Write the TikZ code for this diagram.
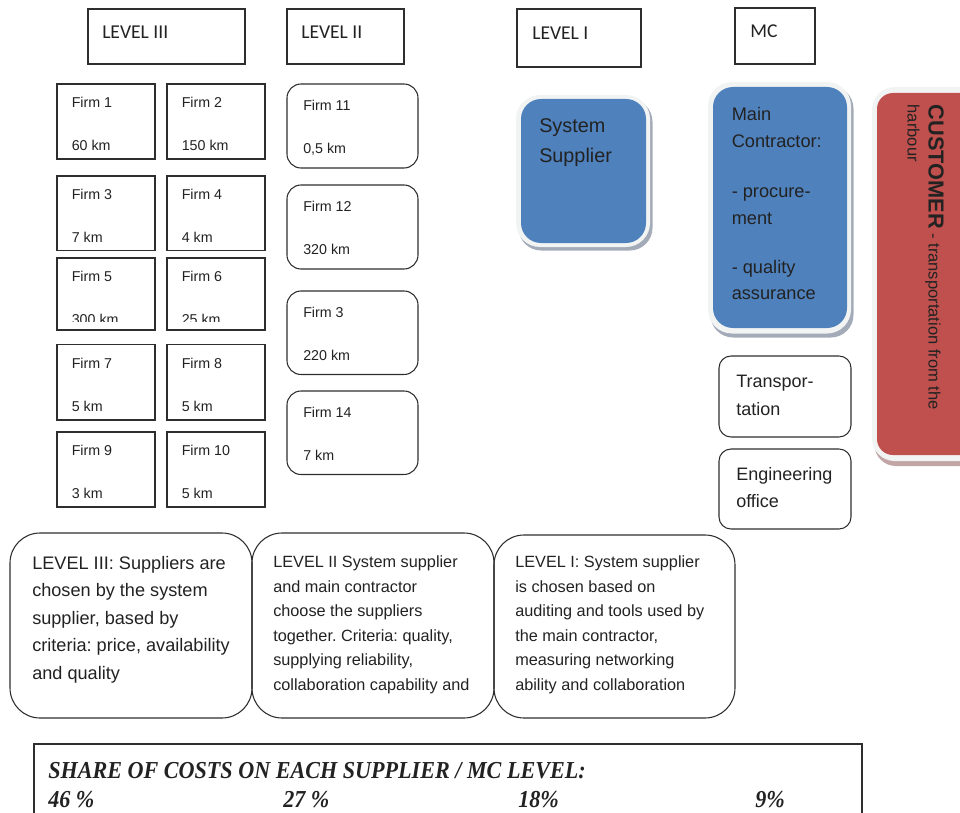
\documentclass[tikz,border=0pt]{standalone}
\usepackage{fontspec}
\usepackage{graphicx}
\setmainfont{Liberation Sans}
\newfontfamily\hdrfont{Carlito}
\newfontfamily\costfont{Liberation Serif}
\usetikzlibrary{calc}
\frenchspacing

\definecolor{mcblue}{HTML}{4F81BD}
\definecolor{custred}{HTML}{C0504D}
\definecolor{rimgray}{HTML}{F2F4F4}
\definecolor{shadeblue}{HTML}{A3AAB8}
\definecolor{shadered}{HTML}{C2A6A6}
\definecolor{ink}{HTML}{222222}
\definecolor{edge}{HTML}{2E2E2E}

% one drawing unit = one pixel of a 960 x 813 sheet
\newcommand\pxu{0.75pt}
% the cost line is set a little taller than the serif's natural shape
\newcommand\tallcost[1]{\scalebox{1}[1.1]{#1}}

\tikzset{
  frame/.style={draw=edge, line width=0.8pt, anchor=north west, inner sep=0pt, outer sep=0pt},
  hdrbox/.style={frame},
  hdrtxt/.style={anchor=base west, inner sep=0pt, text=ink, font=\hdrfont\fontsize{14.7}{17}\selectfont},
  sqbox/.style={frame, line width=0.9pt, minimum width=98*\pxu},
  rndbox/.style={frame, rounded corners=10.5pt, minimum width=131*\pxu},
  firmtxt/.style={anchor=base west, inner sep=0pt, text=ink, font=\fontsize{10.7}{12}\selectfont},
  bluebox/.style={anchor=north west, inner sep=0pt, outer sep=0pt, fill=mcblue, rounded corners=15pt},
  bluetxt/.style={anchor=base west, inner sep=0pt, text=ink},
  sidebox/.style={frame, rounded corners=9pt, minimum width=132*\pxu, minimum height=81*\pxu},
  sidetxt/.style={anchor=base west, inner sep=0pt, text=ink, font=\fontsize{13.5}{16}\selectfont},
  notebox/.style={frame, rounded corners=22.5pt},
  notetxt/.style={anchor=base west, inner sep=0pt, text=ink},
  costtxt/.style={anchor=base west, inner sep=0pt, text=ink, font=\costfont\bfseries\itshape\fontsize{16.6}{19}\selectfont},
}

% square supplier cell: name, x, y, height, firm, distance
\newcommand\sqfirm[6]{%
  \node[sqbox, minimum height=#4*\pxu] (#1) at (#2,#3) {};
  \node[firmtxt] (#1-n) at ({#2+14.5},{#3+23.5}) {#5};
  \node[firmtxt] (#1-d) at ({#2+14.5},{#3+66.5}) {#6};
}
% rounded supplier cell: name, y, height, firm, distance
\newcommand\rndfirm[5]{%
  \node[rndbox, minimum height=#3*\pxu] (#1) at (287,#2) {};
  \node[firmtxt] (#1-n) at (303,{#2+26.5}) {#4};
  \node[firmtxt] (#1-d) at (303,{#2+69.5}) {#5};
}

\begin{document}
\begin{tikzpicture}[x=0.75pt,y=-0.75pt]
\path[use as bounding box] (0,0) rectangle (960,813);
\clip (0,0) rectangle (960,813);

% ---- level headings
\node[hdrbox, minimum width=157*\pxu, minimum height=55*\pxu] (h3) at (88,9) {};
\node[hdrtxt] (h3-t) at (102,39) {LEVEL III};
\node[hdrbox, minimum width=117*\pxu, minimum height=55*\pxu] (h2) at (287,9) {};
\node[hdrtxt] (h2-t) at (301,39) {LEVEL II};
\node[hdrbox, minimum width=124*\pxu, minimum height=58*\pxu] (h1) at (517,9) {};
\node[hdrtxt] (h1-t) at (532,40) {LEVEL I};
\node[hdrbox, minimum width=80*\pxu, minimum height=56*\pxu] (hmc) at (735,8) {};
\node[hdrtxt] (hmc-t) at (750,38) {MC};

% ---- level III suppliers
\sqfirm{f1}{57}{84}{75}{Firm 1}{60 km}
\sqfirm{f2}{167}{84}{75}{Firm 2}{150 km}
\sqfirm{f3}{57}{176}{74.5}{Firm 3}{7 km}
\sqfirm{f4}{167}{176}{74.5}{Firm 4}{4 km}
\node[sqbox, minimum height=72*\pxu] (f5) at (57,258) {};
\node[firmtxt] (f5-n) at (71.5,281.5) {Firm 5};
\node[sqbox, minimum height=72*\pxu] (f6) at (167,258) {};
\node[firmtxt] (f6-n) at (181.5,281.5) {Firm 6};
\begin{scope}
  \clip (50,250) rectangle (270,321.5);
  \node[firmtxt] (f5-d) at (71.5,324.5) {300 km};
  \node[firmtxt] (f6-d) at (181.5,324.5) {25 km};
\end{scope}
\sqfirm{f7}{57}{344.5}{75.5}{Firm 7}{5 km}
\sqfirm{f8}{167}{344.5}{75.5}{Firm 8}{5 km}
\sqfirm{f9}{57}{432}{75}{Firm 9}{3 km}
\sqfirm{f10}{167}{432}{75}{Firm 10}{5 km}

% ---- level II suppliers
\rndfirm{f11}{84}{84}{Firm 11}{0,5 km}
\rndfirm{f12}{185}{84}{Firm 12}{320 km}
\rndfirm{f13}{291}{83.5}{Firm 3}{220 km}
\rndfirm{f14}{391}{83.5}{Firm 14}{7 km}

% ---- system supplier
\fill[shadeblue, rounded corners=17pt] (518.5,99) rectangle (652.5,250.5);
\fill[rimgray, rounded corners=18pt] (516,95) rectangle (650,247);
\node[bluebox, minimum width=125*\pxu, minimum height=144*\pxu] (ss) at (521,99) {};
\node[bluetxt, font=\fontsize{14.85}{17}\selectfont] (ss-1) at (539,133) {System};
\node[bluetxt, font=\fontsize{14.85}{17}\selectfont] (ss-2) at (539,163) {Supplier};

% ---- main contractor
\fill[shadeblue, rounded corners=17pt] (710.5,86) rectangle (853.5,337.5);
\fill[rimgray, rounded corners=18pt] (708,82) rectangle (851,333.5);
\node[bluebox, minimum width=134*\pxu, minimum height=241*\pxu] (mc) at (713,87) {};
\foreach \ln/\yy [count=\k] in {Main/121, Contractor:/148, - procure-/197, ment/224, - quality/273, assurance/299}
  \node[bluetxt, font=\fontsize{13.65}{16}\selectfont] (mc-\k) at (731.5,\yy) {\ln};

% ---- services of the main contractor
\node[sidebox] (tr) at (719,356) {};
\node[sidetxt] (tr-1) at (736,387) {Transpor-};
\node[sidetxt] (tr-2) at (736,415) {tation};
\node[sidebox, minimum height=80*\pxu] (eo) at (719,449) {};
\node[sidetxt] (eo-1) at (736,480) {Engineering};
\node[sidetxt] (eo-2) at (736,507) {office};

% ---- customer
\fill[shadered, rounded corners=16pt] (874.5,92) rectangle (990,466);
\fill[rimgray, rounded corners=17pt] (872,87) rectangle (988,461);
\node[anchor=north west, inner sep=0pt, outer sep=0pt, fill=custred, rounded corners=12pt,
      minimum width=110*\pxu, minimum height=362*\pxu] (cust) at (877,93) {};
\node[anchor=base west, inner sep=0pt, rotate=-90, text=ink] (cust-1) at (928.5,104.5)
  {{\bfseries\fontsize{16.3}{19}\selectfont CUSTOMER}{\fontsize{12.4}{14}\selectfont\ - transportation from the}};
\node[anchor=base west, inner sep=0pt, rotate=-90, text=ink, font=\fontsize{12.4}{14}\selectfont] (cust-2) at (907.5,104.5) {harbour};

% ---- selection criteria per level
\node[notebox, minimum width=242*\pxu, minimum height=185*\pxu] (n3) at (10,533) {};
\foreach \ln [count=\k] in {LEVEL III: Suppliers are, chosen by the system, {supplier, based by}, {criteria: price, availability}, and quality}
  \node[notetxt, font=\fontsize{13.6}{16}\selectfont] (n3-\k) at (32,{569.5+27.4*(\k-1)}) {\ln};
\node[notebox, minimum width=242*\pxu, minimum height=185*\pxu] (n2) at (252,533) {};
\foreach \ln [count=\k] in {LEVEL II System supplier, and main contractor, choose the suppliers, {together. Criteria: quality,}, {supplying reliability,}, collaboration capability and}
  \node[notetxt, font=\fontsize{12.2}{14}\selectfont] (n2-\k) at (273,{567.5+24.6*(\k-1)}) {\ln};
\node[notebox, minimum width=241*\pxu, minimum height=183*\pxu] (n1) at (494,535) {};
\foreach \ln [count=\k] in {LEVEL I: System supplier, is chosen based on, auditing and tools used by, {the main contractor,}, measuring networking, ability and collaboration}
  \node[notetxt, font=\fontsize{12.2}{14}\selectfont] (n1-\k) at (515,{567.5+24.6*(\k-1)}) {\ln};

% ---- cost shares
\node[frame, minimum width=828*\pxu, minimum height=90*\pxu] (cost) at (34,744) {};
\node[costtxt] (cost-h) at (48,778) {\tallcost{SHARE OF COSTS ON EACH SUPPLIER / MC LEVEL:}};
\node[costtxt] (cost-3) at (48,807) {\tallcost{46 \%}};
\node[costtxt] (cost-2) at (283,807) {\tallcost{27 \%}};
\node[costtxt] (cost-1) at (518,807) {\tallcost{18\%}};
\node[costtxt] (cost-mc) at (755,807) {\tallcost{9\%}};
\end{tikzpicture}
\end{document}
